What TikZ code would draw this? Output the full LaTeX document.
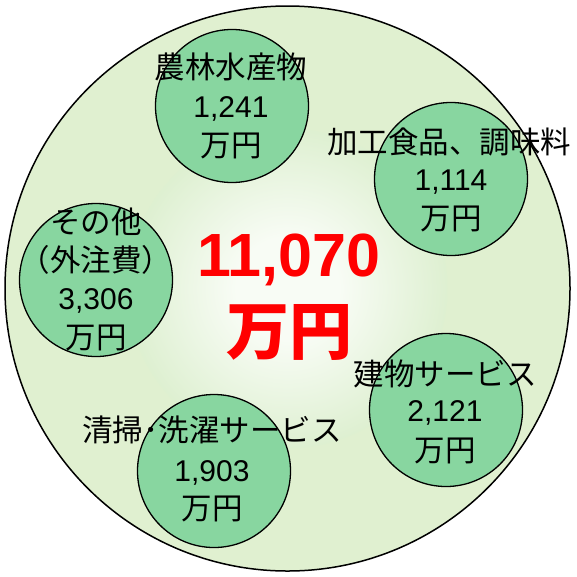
\documentclass[tikz,border=0pt]{standalone}
\usepackage{fontspec}
\setmainfont{Liberation Sans}
\newfontfamily\jp{Noto Sans CJK JP}
\definecolor{outerg}{HTML}{E0F0D0}
\definecolor{midg}{HTML}{D6ECC6}
\definecolor{innerg}{HTML}{F8FCF5}
\definecolor{smallg}{HTML}{88D6A0}
\definecolor{bigred}{HTML}{FF0000}
\pgfdeclareradialshading{glow}{\pgfpoint{0bp}{0bp}}{color(0bp)=(innerg); color(8bp)=(innerg); color(30bp)=(midg); color(50bp)=(outerg)}
\begin{document}
\begin{tikzpicture}[x=1pt,y=-1pt,
  bigc/.style={circle, draw=black, line width=1.5pt, minimum size=565pt, inner sep=0pt, fill=outerg},
  smallc/.style={circle, draw=black, line width=1.3pt, fill=smallg, minimum size=153pt, inner sep=0pt},
  jtxt/.style={anchor=base, inner sep=0pt, font=\jp\fontsize{30.5}{30.5}\selectfont},
  ntxt/.style={anchor=base, inner sep=0pt, font=\fontsize{30}{30}\selectfont},
  rednum/.style={anchor=base, inner sep=0pt, text=bigred, font=\bfseries\fontsize{61}{61}\selectfont},
  redjp/.style={anchor=base, inner sep=0pt, text=bigred, font=\jp\bfseries\fontsize{63}{63}\selectfont}]
\useasboundingbox (0,0) rectangle (577,576);
\node[bigc] (big) at (287.5,288.5) {};
\shade[shading=glow] (big.center) circle[radius=160pt];
\node[smallc] (c1) at (232,106) {};
\node[smallc] (c2) at (451,179) {};
\node[smallc] (c3) at (96,280) {};
\node[smallc] (c4) at (446,410) {};
\node[smallc] (c5) at (214,471) {};
% group 1
\node[jtxt] (t1a) at (231,78) {農林水産物};
\node[ntxt] (t1b) at (231,117.5) {1,241};
\node[jtxt] (t1c) at (231,156) {万円};
% group 2
\node[jtxt] (t2a) at (449,153) {加工食品、調味料};
\node[ntxt] (t2b) at (451,190.5) {1,114};
\node[jtxt] (t2c) at (451,229) {万円};
% group 3
\node[jtxt] (t3a) at (96,233) {その他};
\node[jtxt] (t3b) at (96,271) {（外注費）};
\node[ntxt] (t3c) at (96,309.5) {3,306};
\node[jtxt] (t3d) at (96,348) {万円};
% group 4
\node[jtxt] (t4a) at (445,385) {建物サービス};
\node[ntxt] (t4b) at (445,421.5) {2,121};
\node[jtxt] (t4c) at (445,461) {万円};
% group 5
\node[jtxt] (t5a) at (212,441.5) {清掃･洗濯サービス};
\node[ntxt] (t5b) at (212,481.5) {1,903};
\node[jtxt] (t5c) at (212,519) {万円};
% center
\node[rednum] (total) at (289,276) {11,070};
\node[redjp] (totalu) at (289,354) {万円};
\end{tikzpicture}
\end{document}
